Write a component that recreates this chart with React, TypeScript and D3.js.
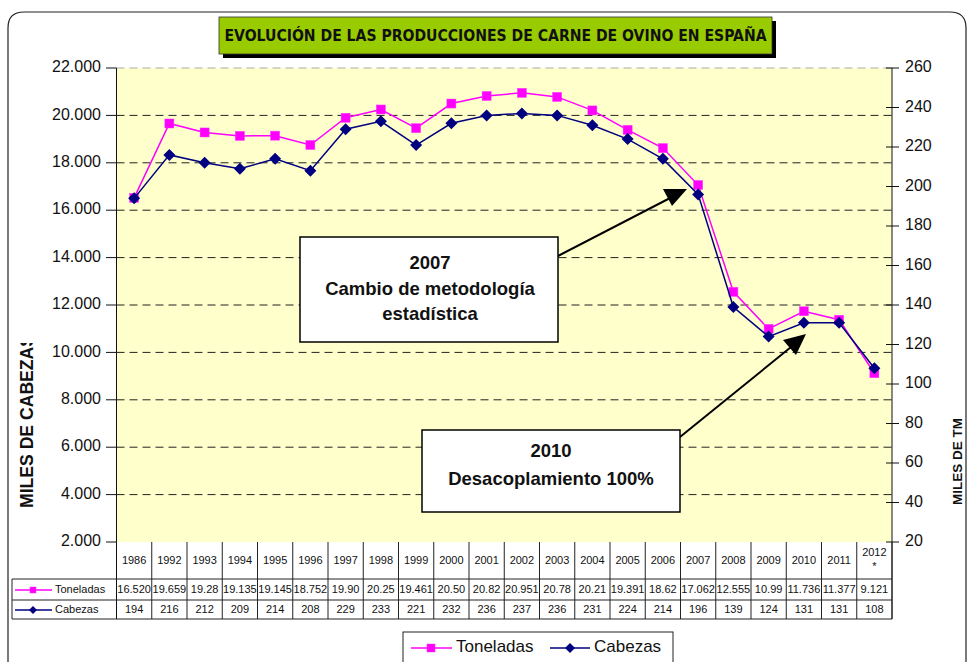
import { line, scaleBand, scaleLinear } from "d3";

const years = ["1986", "1992", "1993", "1994", "1995", "1996", "1997", "1998", "1999", "2000", "2001", "2002", "2003", "2004", "2005", "2006", "2007", "2008", "2009", "2010", "2011", "2012"];
const toneladas = [16.52, 19.659, 19.28, 19.135, 19.145, 18.752, 19.9, 20.25, 19.461, 20.5, 20.82, 20.951, 20.78, 20.21, 19.391, 18.62, 17.062, 12.555, 10.99, 11.736, 11.377, 9.121];
const toneladasLabels = ["16.520", "19.659", "19.28", "19.135", "19.145", "18.752", "19.90", "20.25", "19.461", "20.50", "20.82", "20.951", "20.78", "20.21", "19.391", "18.62", "17.062", "12.555", "10.99", "11.736", "11.377", "9.121"];
const cabezas = [194, 216, 212, 209, 214, 208, 229, 233, 221, 232, 236, 237, 236, 231, 224, 214, 196, 139, 124, 131, 131, 108];
const leftTicks = [2, 4, 6, 8, 10, 12, 14, 16, 18, 20, 22];
const rightTicks = [20, 40, 60, 80, 100, 120, 140, 160, 180, 200, 220, 240, 260];

const FONT = "'Liberation Sans', Arial, sans-serif";

export default function App() {
  const plot = { left: 116.5, right: 892, top: 68, bottom: 542 };
  const x = scaleBand<string>().domain(years).range([plot.left, plot.right]);
  const cx = (i: number) => (x(years[i]) ?? 0) + x.bandwidth() / 2;
  const yL = scaleLinear().domain([2, 22]).range([plot.bottom, plot.top]);
  const yR = scaleLinear().domain([20, 260]).range([plot.bottom, plot.top]);

  const tonPath = line<number>().x((_, i) => cx(i)).y((d) => yL(d))(toneladas) ?? "";
  const cabPath = line<number>().x((_, i) => cx(i)).y((d) => yR(d))(cabezas) ?? "";

  const rowTop = 579;
  const rowMid = 600;
  const rowBot = 619;
  const tableLeft = 12;

  const square = (px: number, py: number, k: string, s = 9) => (
    <rect key={k} x={px - s / 2} y={py - s / 2} width={s} height={s} fill="#FF00FF" stroke="#FF33FF" strokeWidth={0.5} />
  );
  const diamond = (px: number, py: number, k: string, s = 6) => (
    <path key={k} d={`M${px},${py - s}L${px + s},${py}L${px},${py + s}L${px - s},${py}Z`} fill="#000080" />
  );

  return (
    <svg width={968} height={662} style={{ position: "absolute", left: 0, top: 0, background: "#fff" }} fontFamily={FONT}>
      <defs>
        <clipPath id="leftTitleClip">
          <rect x={0} y={343} width={60} height={200} />
        </clipPath>
      </defs>
      {/* outer chart frame */}
      <path d="M8,700 L8,28 Q8,12 24,12 L950,12 Q966,12 966,28 L966,700" fill="none" stroke="#222" strokeWidth={1.2} />

      {/* title */}
      <rect x={223} y={21} width={553} height={37} fill="#000" />
      <rect x={219} y={17} width={553} height={37} fill="#99CC00" stroke="#333" strokeWidth={0.8} />
      <text x={495.5} y={36} textAnchor="middle" dominantBaseline="middle" fontSize={16} fontWeight="bold" fill="#111"
        textLength={542} lengthAdjust="spacingAndGlyphs" fontFamily="'Liberation Sans Narrow', 'DejaVu Sans Condensed', sans-serif">
        EVOLUCIÓN DE LAS PRODUCCIONES DE CARNE DE OVINO EN ESPAÑA
      </text>

      {/* plot area */}
      <rect x={plot.left} y={plot.top} width={plot.right - plot.left} height={plot.bottom - plot.top} fill="#FFFFCC" />
      {leftTicks.filter((t) => t > 2).map((t) => (
        <line key={`g${t}`} x1={plot.left} x2={plot.right} y1={yL(t)} y2={yL(t)}
          stroke={t === 22 ? "#aaa" : "#222"} strokeDasharray="8,5" strokeWidth={1} />
      ))}

      {/* left axis */}
      <line x1={plot.left} x2={plot.left} y1={plot.top} y2={rowBot} stroke="#111" />
      {leftTicks.map((t) => (
        <g key={`l${t}`}>
          <line x1={106} x2={plot.left} y1={yL(t)} y2={yL(t)} stroke="#111" />
          <text x={101} y={yL(t)} textAnchor="end" dominantBaseline="middle" fontSize={16} fill="#111">
            {t.toFixed(3)}
          </text>
        </g>
      ))}

      {/* right axis */}
      <line x1={plot.right} x2={plot.right} y1={plot.top} y2={rowBot} stroke="#111" />
      {rightTicks.map((t) => (
        <g key={`r${t}`}>
          <line x1={886} x2={899} y1={yR(t)} y2={yR(t)} stroke="#111" />
          <text x={905} y={yR(t)} dominantBaseline="middle" fontSize={16} fill="#111">
            {t}
          </text>
        </g>
      ))}

      {/* axis titles */}
      <g clipPath="url(#leftTitleClip)">
        <text transform="translate(33,508) rotate(-90)" fontSize={17.6} fontWeight="bold" fill="#111">
          MILES DE CABEZAS
        </text>
      </g>
      <text transform="translate(962,505) rotate(-90)" fontSize={13.5} fontWeight="bold" fill="#111">
        MILES DE TM
      </text>

      {/* series */}
      <path d={tonPath} fill="none" stroke="#FF00FF" strokeWidth={1.5} />
      {toneladas.map((d, i) => square(cx(i), yL(d), `s${i}`))}
      <path d={cabPath} fill="none" stroke="#000080" strokeWidth={1.5} />
      {cabezas.map((d, i) => diamond(cx(i), yR(d), `d${i}`))}

      {/* data table */}
      {[rowTop, rowMid, rowBot].map((yy) => (
        <line key={`h${yy}`} x1={tableLeft} x2={plot.right} y1={yy} y2={yy} stroke="#222" />
      ))}
      <line x1={tableLeft} x2={tableLeft} y1={rowTop} y2={rowBot} stroke="#222" />
      {years.map((yr, i) => {
        const x0 = x(yr) ?? 0;
        return (
          <g key={`c${yr}`}>
            <line x1={x0 + x.bandwidth()} x2={x0 + x.bandwidth()} y1={plot.bottom} y2={rowBot} stroke="#222" />
            {yr === "2012" ? (
              <>
                <text x={cx(i)} y={553} textAnchor="middle" dominantBaseline="middle" fontSize={11} fill="#111">{yr}</text>
                <text x={cx(i)} y={567} textAnchor="middle" dominantBaseline="middle" fontSize={11} fill="#111">*</text>
              </>
            ) : (
              <text x={cx(i)} y={561} textAnchor="middle" dominantBaseline="middle" fontSize={11} fill="#111">{yr}</text>
            )}
            <text x={cx(i)} y={590} textAnchor="middle" dominantBaseline="middle" fontSize={11} fill="#111">{toneladasLabels[i]}</text>
            <text x={cx(i)} y={610} textAnchor="middle" dominantBaseline="middle" fontSize={11} fill="#111">{cabezas[i]}</text>
          </g>
        );
      })}
      <line x1={15} x2={52} y1={590} y2={590} stroke="#FF00FF" strokeWidth={1.5} />
      {square(33, 590, "ts", 6)}
      <text x={55} y={590} dominantBaseline="middle" fontSize={11} fill="#111">Toneladas</text>
      <line x1={15} x2={52} y1={610} y2={610} stroke="#000080" strokeWidth={1.5} />
      {diamond(33, 610, "td", 4)}
      <text x={55} y={610} dominantBaseline="middle" fontSize={11} fill="#111">Cabezas</text>

      {/* annotations */}
      <line x1={558} x2={674} y1={256} y2={196} stroke="#000" strokeWidth={2} />
      <path d="M687,189 L663,189 L672,206 Z" fill="#000" />
      <rect x={300} y={237} width={258} height={105} fill="#fff" stroke="#000" strokeWidth={1.5} />
      <text x={430} y={264} textAnchor="middle" dominantBaseline="middle" fontSize={18.5} fontWeight="bold" fill="#111">2007</text>
      <text x={430} y={290} textAnchor="middle" dominantBaseline="middle" fontSize={18.5} fontWeight="bold" fill="#111">Cambio de metodología</text>
      <text x={430} y={315} textAnchor="middle" dominantBaseline="middle" fontSize={18.5} fontWeight="bold" fill="#111">estadística</text>

      <line x1={680} x2={796} y1={437} y2={343} stroke="#000" strokeWidth={2} />
      <path d="M806,334 L783,340 L796,355 Z" fill="#000" />
      <rect x={422} y={430} width={258} height={82} fill="#fff" stroke="#000" strokeWidth={1.5} />
      <text x={551} y={452} textAnchor="middle" dominantBaseline="middle" fontSize={18.5} fontWeight="bold" fill="#111">2010</text>
      <text x={551} y={480} textAnchor="middle" dominantBaseline="middle" fontSize={18.5} fontWeight="bold" fill="#111">Desacoplamiento 100%</text>

      {/* legend */}
      <rect x={403} y={632} width={270} height={40} fill="#fff" stroke="#222" />
      <line x1={411} x2={452} y1={648} y2={648} stroke="#FF00FF" strokeWidth={1.5} />
      {square(431, 648, "ls", 8)}
      <text x={456} y={648} dominantBaseline="middle" fontSize={17} fill="#111">Toneladas</text>
      <line x1={550} x2={590} y1={648} y2={648} stroke="#000080" strokeWidth={1.5} />
      {diamond(570, 648, "ld", 5)}
      <text x={594} y={648} dominantBaseline="middle" fontSize={17} fill="#111">Cabezas</text>
    </svg>
  );
}
